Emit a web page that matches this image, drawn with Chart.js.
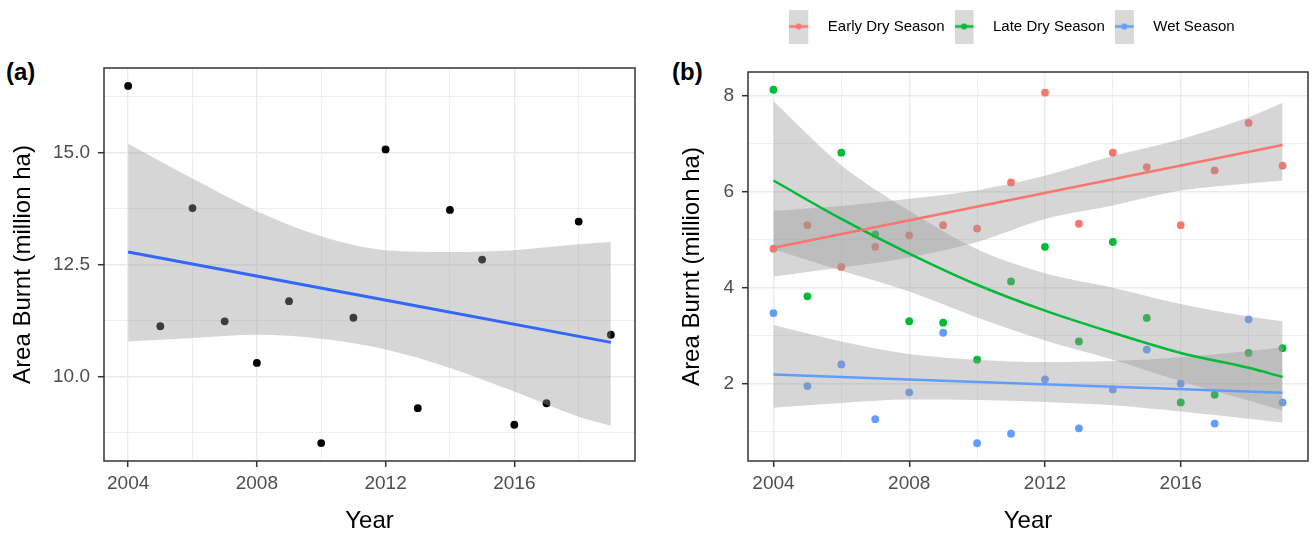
<!DOCTYPE html>
<html>
<head>
<meta charset="utf-8">
<script src="https://cdn.jsdelivr.net/npm/chart.js@4.4.1/dist/chart.umd.min.js"></script>
<style>
  body { margin: 0; background: #fff; width: 1312px; height: 536px; overflow: hidden; position: relative; }
  canvas { position: absolute; top: 0; }
  .tag { position: absolute; top: 58px; font: bold 24px "Liberation Sans", Arial, sans-serif; color: #000; }
</style>
</head>
<body>
<div class="tag" style="left:6px">(a)</div>
<div class="tag" style="left:672px">(b)</div>
<canvas id="chart-a" width="660" height="536" style="left:0"></canvas>
<canvas id="chart-b" width="652" height="536" style="left:660px"></canvas>
<script>
let years = [2004, 2005, 2006, 2007, 2008, 2009, 2010, 2011, 2012, 2013, 2014, 2015, 2016, 2017, 2018, 2019];

// panel (a): total area burnt
let totalBurnt = [16.49, 11.12, 13.76, 11.23, 10.30, 11.68, 8.51, 11.31, 15.07, 9.29, 13.72, 12.61, 8.92, 9.40, 13.46, 10.93];
let fitYears = [2004, 2019];
let totalFit = [12.78, 10.76];
let bandYears = [2004, 2006, 2008, 2010, 2012, 2014, 2016, 2018, 2019];
let totalUpper = [15.20, 14.42, 13.69, 13.13, 12.82, 12.78, 12.82, 12.95, 13.00];
let totalLower = [10.78, 10.86, 10.93, 10.84, 10.60, 10.19, 9.66, 9.10, 8.90];

// panel (b): by season
let seasons = ["Early Dry Season", "Late Dry Season", "Wet Season"];
let seasonColors = ["#F8766D", "#00BA38", "#619CFF"];
let earlyDry = [4.81, 5.30, 4.43, 4.85, 5.09, 5.30, 5.23, 6.19, 8.06, 5.33, 6.81, 6.51, 5.30, 6.44, 7.43, 6.54];
let lateDry = [8.12, 3.82, 6.81, 5.11, 3.30, 3.27, 2.50, 4.13, 4.85, 2.88, 4.95, 3.37, 1.61, 1.77, 2.64, 2.74];
let wet = [3.47, 1.95, 2.40, 1.26, 1.82, 3.06, 0.76, 0.96, 2.09, 1.07, 1.88, 2.71, 2.00, 1.17, 3.34, 1.61];
let earlyFit = [4.83, 6.97];
let earlyUpper = [5.60, 5.70, 5.85, 6.03, 6.33, 6.74, 7.09, 7.55, 7.85];
let earlyLower = [4.23, 4.42, 4.63, 4.95, 5.43, 5.71, 6.02, 6.17, 6.23];
let lateFit = [6.23, 5.43, 4.71, 4.06, 3.52, 3.06, 2.64, 2.33, 2.14];
let lateUpper = [7.88, 6.55, 5.60, 4.80, 4.30, 4.00, 3.66, 3.40, 3.30];
let lateLower = [4.80, 4.35, 3.92, 3.38, 2.90, 2.50, 2.05, 1.65, 1.44];
let wetFit = [2.19, 1.81];
let wetUpper = [3.22, 2.88, 2.62, 2.50, 2.45, 2.47, 2.55, 2.68, 2.76];
let wetLower = [1.50, 1.60, 1.67, 1.66, 1.62, 1.55, 1.42, 1.27, 1.19];

// ticks
let xMajor = [2004, 2008, 2012, 2016];
let xMinor = [2006, 2010, 2014, 2018];
let yMajorA = [10, 12.5, 15];
let yMinorA = [8.75, 11.25, 13.75, 16.25];
let yMajorB = [2, 4, 6, 8];
let yMinorB = [1, 3, 5, 7];

Chart.defaults.font.family = "'Liberation Sans', Arial, sans-serif";
Chart.defaults.animation = false;

const bandFill = "rgba(153,153,153,0.4)";
const tickFont = { size: 19 };

function xy(xs, ys) {
    return xs.map((x, i) => ({ x: x, y: ys[i] }));
}

function gridFor(major) {
    return {
        color: "#ebebeb",
        lineWidth: (ctx) => (ctx.tick && major.includes(ctx.tick.value) ? 1.4 : 0.8),
        tickLength: 6,
        tickWidth: 1.5,
        tickColor: (ctx) => (ctx.tick && major.includes(ctx.tick.value) ? "#333" : "rgba(0,0,0,0)"),
    };
}

function xScale() {
    return {
        type: "linear",
        min: 2003.25,
        max: 2019.75,
        afterBuildTicks: (s) => { s.ticks = xMajor.concat(xMinor).sort().map((v) => ({ value: v })); },
        ticks: {
            autoSkip: false, maxRotation: 0, padding: 5, font: tickFont, color: "#4d4d4d",
            callback: (v) => (xMajor.includes(v) ? String(v) : ""),
        },
        grid: gridFor(xMajor),
        border: { display: false },
        title: { display: true, text: "Year", color: "#000", font: { size: 24 }, padding: { top: 0, bottom: 0 } },
        afterFit: (s) => { s.height = 75; },
    };
}

function yScale(min, max, major, minor, fmt, width, titlePad) {
    return {
        min: min,
        max: max,
        afterBuildTicks: (s) => { s.ticks = major.concat(minor).sort((a, b) => a - b).map((v) => ({ value: v })); },
        ticks: {
            autoSkip: false, padding: 8, font: tickFont, color: "#4d4d4d",
            callback: (v) => (major.includes(v) ? fmt(v) : ""),
        },
        grid: gridFor(major),
        border: { display: false },
        title: { display: true, text: "Area Burnt (million ha)", color: "#000", font: { size: 24 }, padding: { top: titlePad, bottom: 0 } },
        afterFit: (s) => { s.width = width; },
    };
}

const frame = {
    id: "frame",
    afterDatasetsDraw(chart) {
        const a = chart.chartArea, c = chart.ctx;
        c.save();
        c.strokeStyle = "#333";
        c.lineWidth = 1.5;
        c.strokeRect(a.left, a.top, a.right - a.left, a.bottom - a.top);
        c.restore();
    },
};

function pointSet(data, color) {
    return { data: xy(years, data), showLine: false, pointRadius: 3.9, pointBorderWidth: 0, pointBackgroundColor: color, order: 2 };
}
function bandPair(upper, lower) {
    return [
        { data: xy(bandYears, upper), fill: "+1", backgroundColor: bandFill, borderWidth: 0, pointRadius: 0, cubicInterpolationMode: "monotone", order: 1 },
        { data: xy(bandYears, lower), fill: false, borderWidth: 0, pointRadius: 0, cubicInterpolationMode: "monotone", order: 1 },
    ];
}
function fitLine(xs, ys, color, w) {
    return { data: xy(xs, ys), fill: false, borderColor: color, borderWidth: w, pointRadius: 0, cubicInterpolationMode: "monotone", order: 0 };
}

new Chart("chart-a", {
    type: "line",
    data: {
        datasets: [
            fitLine(fitYears, totalFit, "#3366FF", 3),
            ...bandPair(totalUpper, totalLower),
            pointSet(totalBurnt, "#000"),
        ],
    },
    options: {
        responsive: false,
        layout: { padding: { top: 68, right: 25, left: 0, bottom: 0 } },
        scales: {
            x: xScale(),
            y: yScale(8.11, 16.89, yMajorA, yMinorA, (v) => v.toFixed(1), 104, 8.6),
        },
        plugins: { legend: { display: false }, tooltip: { enabled: false }, filler: { drawTime: "beforeDatasetDraw" } },
    },
    plugins: [frame],
});

function makeKey(color) {
    const c = document.createElement("canvas");
    c.width = 31;
    c.height = 34;
    const g = c.getContext("2d");
    g.fillStyle = "#d9d9d9";
    g.fillRect(0, 0, 19, 34);
    g.strokeStyle = color;
    g.lineWidth = 2.5;
    g.beginPath();
    g.moveTo(0, 17);
    g.lineTo(19, 17);
    g.stroke();
    g.fillStyle = color;
    g.beginPath();
    g.arc(9.5, 17, 3, 0, Math.PI * 2);
    g.fill();
    return c;
}

const shiftLegend = {
    id: "shiftLegend",
    afterLayout(chart) {
        chart.legend.left += 28;
        chart.legend.right += 28;
    },
};

new Chart("chart-b", {
    type: "line",
    data: {
        datasets: [
            fitLine(fitYears, earlyFit, seasonColors[0], 2.5),
            fitLine(bandYears, lateFit, seasonColors[1], 2.5),
            fitLine(fitYears, wetFit, seasonColors[2], 2.5),
            ...bandPair(earlyUpper, earlyLower),
            ...bandPair(lateUpper, lateLower),
            ...bandPair(wetUpper, wetLower),
            pointSet(earlyDry, seasonColors[0]),
            pointSet(lateDry, seasonColors[1]),
            pointSet(wet, seasonColors[2]),
        ],
    },
    options: {
        responsive: false,
        layout: { padding: { top: 9, right: 4, left: 0, bottom: 0 } },
        scales: {
            x: xScale(),
            y: yScale(0.39, 8.49, yMajorB, yMinorB, (v) => String(v), 88, 17.6),
            gap: {
                type: "linear", position: "top", display: true,
                ticks: { display: false }, grid: { display: false }, border: { display: false },
                afterFit: (s) => { s.height = 28; },
            },
        },
        plugins: {
            tooltip: { enabled: false },
            filler: { drawTime: "beforeDatasetDraw" },
            legend: {
                position: "top",
                labels: {
                    usePointStyle: true,
                    pointStyleWidth: 31,
                    padding: 10,
                    color: "#1a1a1a",
                    font: { size: 15 },
                    generateLabels: () => seasons.map((s, i) => ({
                        text: s, pointStyle: makeKey(seasonColors[i]), fillStyle: seasonColors[i],
                        strokeStyle: seasonColors[i], lineWidth: 0, hidden: false, datasetIndex: i,
                    })),
                },
            },
        },
    },
    plugins: [frame, shiftLegend],
});
</script>
</body>
</html>
